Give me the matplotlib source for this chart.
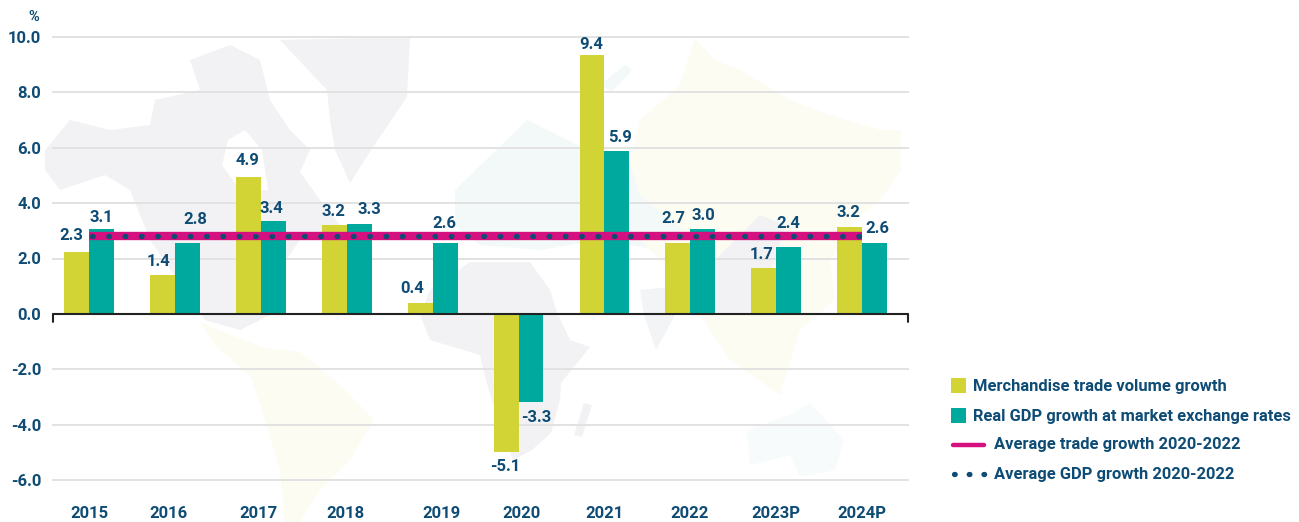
import matplotlib
matplotlib.use("Agg")
import matplotlib.pyplot as plt
from matplotlib.patches import Polygon
import numpy as np

plt.rcParams["font.family"] = ["Roboto", "DejaVu Sans"]
plt.rcParams["lines.scale_dashes"] = False

years = ["2015", "2016", "2017", "2018", "2019", "2020", "2021", "2022", "2023P", "2024P"]
trade = [2.25, 1.4, 4.95, 3.2, 0.4, -5.0, 9.35, 2.55, 1.65, 3.15]
gdp = [3.05, 2.55, 3.35, 3.25, 2.55, -3.2, 5.9, 3.05, 2.4, 2.55]
trade_labels = ["2.3", "1.4", "4.9", "3.2", "0.4", "-5.1", "9.4", "2.7", "1.7", "3.2"]
gdp_labels = ["3.1", "2.8", "3.4", "3.3", "2.6", "-3.3", "5.9", "3.0", "2.4", "2.6"]
avg_trade = 2.82
avg_gdp = 2.82
yticks = [-6, -4, -2, 0, 2, 4, 6, 8, 10]

# label nudges in pixels, the source chart places them by hand
trade_nudge = [(-5, 16), (-4, 14), (-1, 16), (-1, 14), (-8, 14), (-1, -14), (-1, 10), (-4, 25), (-2, 14), (-1, 14)]
gdp_nudge = [(0, 12), (8, 24), (-2, 13), (10, 14), (-1, 20), (5, -15), (3, 13), (1, 14), (0, 24), (3, 15)]
year_nudge = [0, -6, -2, -1, 9, 3, 0, -1, 0, 0]

NAVY = "#0f4c75"
YELLOW = "#d2d436"
TEAL = "#00a99d"
PINK = "#d5107f"
GREY_LAND = "#f2f2f5"
PALE_YELLOW = "#fcfcf2"
PALE_TEAL = "#f2f9f8"

W, H = 1299, 522
fig = plt.figure(figsize=(W / 100, H / 100), dpi=100)

# faint world map behind the chart, pixel coordinates
bg = fig.add_axes([0, 0, 1, 1], zorder=0)
bg.set_xlim(0, W)
bg.set_ylim(H, 0)
bg.axis("off")
land = [
    # north america
    (GREY_LAND, [(45, 150), (70, 120), (110, 130), (150, 125), (155, 100), (200, 90), (190, 60), (230, 45), (260, 60),
                 (270, 100), (290, 130), (310, 150), (300, 172), (320, 200), (340, 225), (300, 240), (265, 290), (270, 315),
                 (240, 330), (205, 320), (150, 240), (130, 190), (105, 175), (60, 190), (45, 170)]),
    # greenland
    (GREY_LAND, [(280, 40), (410, 37), (407, 97), (373, 147), (350, 183), (335, 150), (330, 120), (327, 90)]),
    # hudson bay
    ("white", [(228, 140), (245, 130), (262, 150), (268, 190), (240, 190), (222, 165)]),
    # south america
    (PALE_YELLOW, [(200, 322), (230, 335), (265, 348), (300, 352), (340, 385), (374, 420), (350, 460), (320, 490), (300, 522),
                   (285, 522), (280, 470), (262, 410), (250, 375), (215, 345)]),
    # europe
    (PALE_TEAL, [(455, 190), (483, 163), (527, 120), (573, 143), (630, 163), (640, 195), (683, 230), (660, 250), (600, 240),
                 (540, 250), (480, 245), (455, 225)]),
    (PALE_TEAL, [(600, 85), (625, 65), (632, 70), (612, 92)]),
    # africa
    (GREY_LAND, [(430, 290), (470, 262), (530, 262), (550, 290), (556, 310), (570, 340), (590, 347), (561, 383), (560, 400),
                 (551, 433), (532, 450), (513, 460), (494, 407), (485, 377), (480, 355), (430, 340), (420, 315)]),
    (GREY_LAND, [(584, 403), (592, 405), (582, 437), (574, 435)]),
    # asia
    (PALE_YELLOW, [(630, 163), (640, 120), (680, 85), (695, 38), (715, 60), (740, 70), (790, 100), (830, 115), (880, 130), (901, 130),
                   (901, 170), (880, 200), (860, 215), (830, 260), (835, 300), (800, 330), (780, 395), (730, 360), (700, 315),
                   (670, 270), (640, 240), (683, 230), (640, 195)]),
    (GREY_LAND, [(715, 260), (760, 215), (785, 225), (775, 260), (750, 314), (715, 314)]),
    # india
    ("#f2f4f6", [(640, 290), (690, 285), (675, 315), (656, 350), (644, 315)]),
    # australia
    ("#f7fbfb", [(747, 430), (790, 415), (810, 403), (844, 440), (835, 470), (800, 477), (790, 455), (750, 465)]),
]
for colour, pts in land:
    bg.add_patch(Polygon(pts, closed=True, facecolor=colour, edgecolor="none"))

ax = fig.add_axes([53 / W, 1 - 480 / H, 855 / W, 443 / H], zorder=1)
ax.patch.set_alpha(0)

x = np.arange(len(years))
width = 0.29
ax.set_xlim(-0.419, 9.534)
ax.set_ylim(-6, 10)

for y in yticks:
    if y != 0:
        ax.axhline(y, color="#e2e2e2", lw=1.4, zorder=1, clip_on=False)

ax.bar(x - width / 2, trade, width, color=YELLOW, zorder=2)
ax.bar(x + width / 2, gdp, width, color=TEAL, zorder=2)

ax.plot([x[0], x[-1]], [avg_trade, avg_trade], color=PINK, lw=6, solid_capstyle="butt", zorder=3)
ax.plot([x[0] + 0.04, x[-1]], [avg_gdp, avg_gdp], color=NAVY, lw=3.8, dash_capstyle="round",
        linestyle=(0, (0.5, 11.24)), zorder=4)

ax.axhline(0, color="#222222", lw=1.5, zorder=5)
ax.spines[:].set_visible(False)
ax.set_xticks([])
ax.set_yticks(yticks)
ax.set_yticklabels(["%.1f" % v for v in yticks], fontsize=12, fontweight="bold", color=NAVY)
ax.tick_params(axis="y", length=0, pad=8.5)

# little end ticks on the zero line
for xa in [0, 1]:
    ax.annotate("", xy=(xa, 0), xycoords=("axes fraction", "data"), xytext=(0, -8), textcoords="offset pixels",
                arrowprops=dict(arrowstyle="-", color="#222222", lw=1.5, shrinkA=0, shrinkB=0))

for i in x:
    ax.annotate(trade_labels[i], (i - width / 2, trade[i]), xytext=trade_nudge[i], textcoords="offset pixels",
                ha="center", va="center", fontsize=12, fontweight="bold", color=NAVY, zorder=6)
    ax.annotate(gdp_labels[i], (i + width / 2, gdp[i]), xytext=gdp_nudge[i], textcoords="offset pixels",
                ha="center", va="center", fontsize=12, fontweight="bold", color=NAVY, zorder=6)
    ax.annotate(years[i], (i, -6), xytext=(year_nudge[i], -33), textcoords="offset pixels",
                ha="center", va="center", fontsize=12, fontweight="bold", color=NAVY)

fig.text(34 / W, 1 - 17 / H, "%", ha="center", va="center", fontsize=10.5, fontweight="bold", color=NAVY)


# legend by hand so the rows land where they do in the source
def leg_text(px, py, s):
    fig.text(px / W, 1 - py / H, s, ha="left", va="center", fontsize=11.9, fontweight="bold", color=NAVY)


bg.add_patch(plt.Rectangle((951, 378), 15, 15, facecolor=YELLOW, edgecolor="none"))
bg.add_patch(plt.Rectangle((951, 408), 15, 15, facecolor=TEAL, edgecolor="none"))
bg.plot([953, 984], [445, 445], color=PINK, lw=3.2, solid_capstyle="round")
bg.plot([954, 986], [474, 474], color=NAVY, lw=3.8, dash_capstyle="round", linestyle=(0, (0.5, 10.1)))
leg_text(973, 386, "Merchandise trade volume growth")
leg_text(973, 416, "Real GDP growth at market exchange rates")
leg_text(994, 445, "Average trade growth 2020-2022")
leg_text(994, 474, "Average GDP growth 2020-2022")

fig.savefig("out.png", dpi=100)
